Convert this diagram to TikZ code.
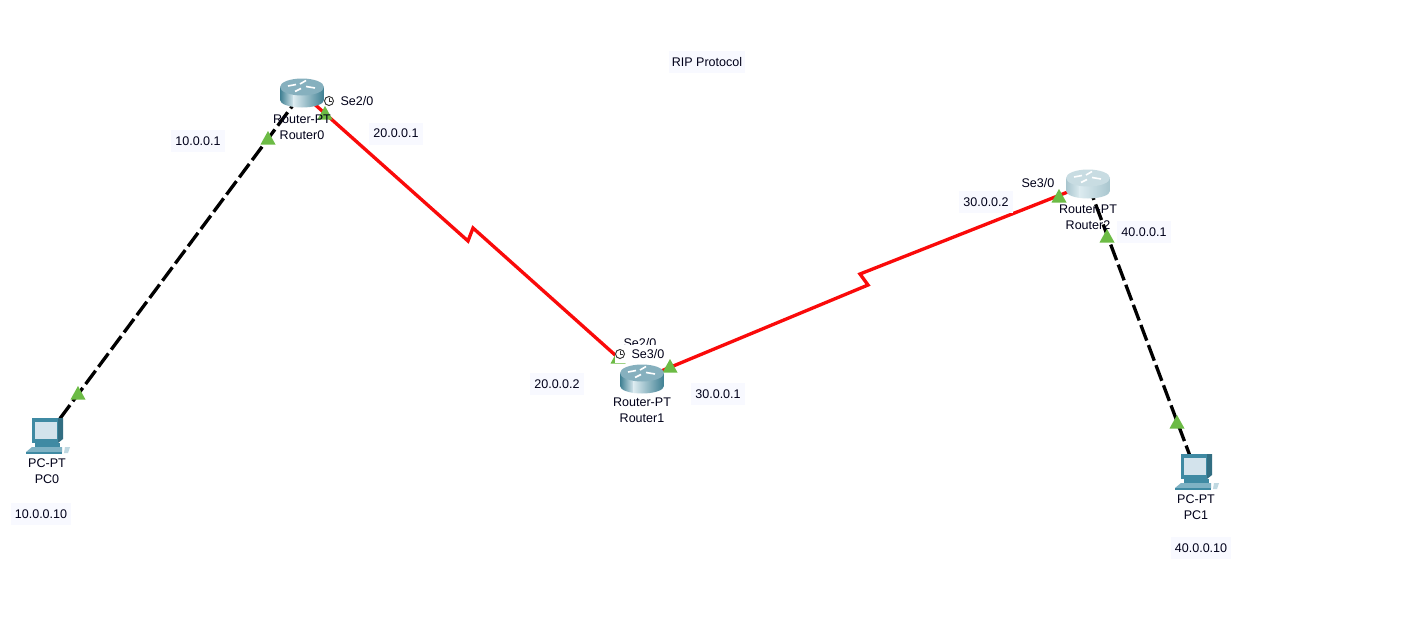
\documentclass[tikz,border=0pt]{standalone}
\usepackage{fontspec}
\setmainfont{Liberation Sans}
\usetikzlibrary{positioning,calc}
\definecolor{rdark}{HTML}{3E7F92}
\definecolor{rmid}{HTML}{DCEBF0}
\definecolor{rtop}{HTML}{86B0BE}
\definecolor{pcedge}{HTML}{3F8AA3}
\definecolor{pcscreen}{HTML}{D3E3EC}
\definecolor{pcbase}{HTML}{7FB2C4}
\definecolor{updot}{HTML}{6CBB45}
\definecolor{labelbg}{HTML}{F8F9FF}
\definecolor{linkred}{HTML}{FA0A0A}
\tikzset{
  routericon/.pic={
    % body, then top
    \begin{scope}
      \clip (-22,-6) -- (-22,7) arc[start angle=180,end angle=0,x radius=22,y radius=7.5] -- (22,-6) -- cycle;
      \shade[left color=rdark!#1!white,right color=rmid] (-22,-16) rectangle (-8,16);
      \shade[left color=rmid,right color=rdark!#1!white] (-8.5,-16) rectangle (22,16);
    \end{scope}
    \fill[rtop!#1!white] (0,-6) ellipse[x radius=22,y radius=8.5];
    \draw[white,line width=1.2pt] (-14,-7) -- (-6,-8.5);
    \draw[white,line width=1.2pt] (-2,-9) -- (4,-12.5);
    \draw[white,line width=1.2pt] (4,-6.5) -- (13,-5);
    \draw[white,line width=1.2pt] (-7,-1.5) -- (-1,-4.5);
  },
  pcicon/.pic={
    \fill[pcedge!80!black] (11,-18) -- (16,-18) -- (16,3) -- (11,7) -- cycle;
    \fill[pcedge] (-15,-18) rectangle (11,7);
    \fill[pcscreen] (-12,-14) rectangle (10,3);
    \fill[pcedge] (-12,7) -- (13,7) -- (13,11) -- (-12,11) -- cycle;
    \fill[pcbase] (-15,11) -- (15,11) -- (15,16) -- (-21,16) -- cycle;
    \fill[pcedge] (-21,16) rectangle (15,17.5);
    \fill[pcbase!50!white] (18,11) -- (23,11) -- (21,17) -- (17,17) -- cycle;
  },
  clockicon/.pic={
    \draw[black!80,line width=.7pt,fill=white] (0,0) circle[radius=4.5];
    \draw[black!80,line width=.6pt] (0,-3) -- (0,0) -- (3,0);
  },
  linkup/.pic={
    \fill[updot] (0,-7) -- (7.5,6.5) -- (-7.5,6.5) -- cycle;
  }
}
\begin{document}
\begin{tikzpicture}[x=.75pt,y=-.75pt,font=\fontsize{9.4}{12}\selectfont,text=black!90!blue,
  devbox/.style={inner sep=0pt,minimum size=0pt},
  serial/.style={draw=linkred,line width=2.5pt},
  copper/.style={draw=black,line width=2.5pt,dash pattern=on 12.5pt off 3.6pt},
  devlabel/.style={inner sep=0pt,align=center},
  ipbox/.style={fill=labelbg,inner sep=0pt,minimum width=40.5pt,minimum height=16.5pt},
  portlabel/.style={inner sep=0pt}]
\useasboundingbox (0,0) rectangle (1409,625);
\fill[white] (0,0) rectangle (1409,625);
% devices
\node[devbox] (pc0) at (47,436) {};
\node[devbox] (router0) at (302,93) {};
\node[devbox] (router1) at (642,379) {};
\node[devbox] (router2) at (1088,184) {};
\node[devbox] (pc1) at (1196,472) {};
% links
\coordinate (zig0a) at (468,241);
\coordinate (zig0b) at (473,228);
\coordinate (zig1a) at (868,285);
\coordinate (zig1b) at (860,274);
\draw[copper] (pc0) -- (router0);
\draw[serial,shorten >=25pt] (router0) -- (zig0a) -- (zig0b) -- (router1);
\draw[serial] (router1) -- (zig1a) -- (zig1b) -- (router2);
\draw[copper] (router2) -- (pc1);
% link lights
\foreach \lx/\ly in {78/393,268/138,325/113,618/357,670/366,1059/196,1107/236,1177/422}
  \pic at (\lx,\ly) {linkup};
% icons
\pic at (router0) {routericon=100};
\pic at (router1) {routericon=100};
\pic at (router2) {routericon=45};
\pic at (pc0) {pcicon};
\pic at (pc1) {pcicon};
% names
\node[devlabel] (name0) at (47,471.5) {PC-PT\\PC0};
\node[devlabel] (name1) at (302,127) {Router-PT\\Router0};
\node[devlabel] (name2) at (642,410.5) {Router-PT\\Router1};
\node[devlabel] (name3) at (1088,217.5) {Router-PT\\Router2};
\node[devlabel] (name4) at (1196,507.5) {PC-PT\\PC1};
% ports
\node[portlabel] (se20) at (357,101) {Se2/0};
\pic at (329,101) {clockicon};
\node[portlabel] (se20b) at (640,343) {Se2/0};
\node[fill=white,inner sep=0pt,minimum width=39.8pt,minimum height=13.5pt] (se30box) at (641.5,354) {};
\node[portlabel] (se30) at (648,354) {Se3/0};
\pic at (620,354) {clockicon};
\node[portlabel] (se30b) at (1038,183) {Se3/0};
% addresses
\node[ipbox,minimum width=57pt] (title) at (707,62) {RIP Protocol};
\node[ipbox] (ip0) at (198,141) {10.0.0.1};
\node[ipbox] (ip1) at (396,133.5) {20.0.0.1};
\node[ipbox] (ip2) at (557,384) {20.0.0.2};
\node[ipbox] (ip3) at (718,394) {30.0.0.1};
\node[ipbox] (ip4) at (986,202) {30.0.0.2};
\node[ipbox] (ip5) at (1144,232) {40.0.0.1};
\node[ipbox,minimum width=45pt] (ip6) at (41,514) {10.0.0.10};
\node[ipbox,minimum width=45pt] (ip7) at (1201,548) {40.0.0.10};
\end{tikzpicture}
\end{document}
